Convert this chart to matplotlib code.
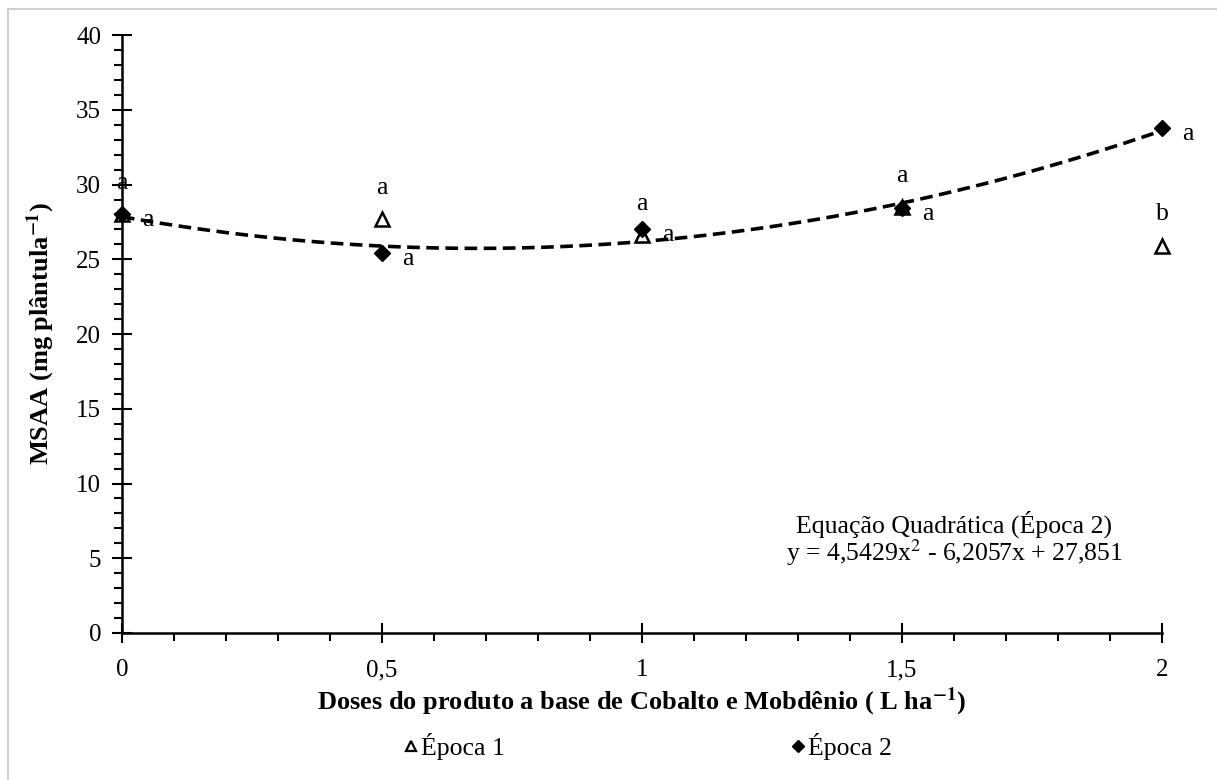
import numpy as np
import matplotlib.pyplot as plt
from matplotlib.lines import Line2D
from matplotlib.ticker import MultipleLocator

plt.rcParams['font.family'] = ['Liberation Serif', 'DejaVu Serif']
plt.rcParams['mathtext.fontset'] = 'stix'

# dados
doses = [0, 0.5, 1, 1.5, 2]
epoca1 = [28.0, 27.7, 26.6, 28.5, 25.9]
epoca2 = [28.0, 25.4, 27.0, 28.4, 33.8]
letras1 = ['a', 'a', 'a', 'a', 'b']
letras2 = ['a', 'a', 'a', 'a', 'a']
coef = [4.5429, -6.2057, 27.851]  # equação quadrática (época 2)

fs = 18.5

fig = plt.figure(figsize=(12.17, 7.80), dpi=100)
ax = fig.add_axes([0.1002, 0.1885, 0.8546, 0.7665])

# curva ajustada
xs = np.linspace(0, 2, 200)
ax.plot(xs, np.polyval(coef, xs), color='black', linestyle=(0, (3.5, 1.8)), lw=2.6, zorder=2)

ax.plot(doses, epoca1, linestyle='none', marker='^', markersize=10, markerfacecolor='white',
        markeredgecolor='black', markeredgewidth=1.8, zorder=3, clip_on=False)
ax.plot(doses, epoca2, linestyle='none', marker='D', markersize=8, color='black', zorder=4,
        clip_on=False)

# letras
for x, y, t in zip(doses, epoca1, letras1):
    ax.text(x, y + 2.1, t, ha='center', va='center', fontsize=fs)
for x, y, t in zip(doses, epoca2, letras2):
    ax.text(x + 0.05, y - 0.4, t, ha='center', va='center', fontsize=fs)

ax.text(1.6, 7.3, 'Equação Quadrática (Época 2)', ha='center', va='center', fontsize=fs)
ax.text(1.6, 5.4, 'y = 4,5429x$^{2}$ - 6,2057x + 27,851', ha='center', va='center', fontsize=fs)

ax.set_xlim(0, 2)
ax.set_ylim(0, 40)
ax.set_xticks(doses)
ax.set_xticklabels(['0', '0,5', '1', '1,5', '2'])
ax.set_yticks(range(0, 41, 5))
ax.xaxis.set_minor_locator(MultipleLocator(0.1))
ax.yaxis.set_minor_locator(MultipleLocator(1))
ax.tick_params(axis='both', which='major', direction='inout', length=14, width=1.5, labelsize=18, pad=8)
ax.tick_params(axis='x', which='major', pad=12)
ax.tick_params(axis='both', which='minor', direction='out', length=6, width=1.5)
for s in ['top', 'right']:
    ax.spines[s].set_visible(False)
for s in ['left', 'bottom']:
    ax.spines[s].set_linewidth(1.8)

ax.set_xlabel('Doses do produto a base de Cobalto e Mobdênio ( L ha$^{\\mathbf{-1}}$)',
              fontsize=19, fontweight='bold', labelpad=3)
ax.set_ylabel('MSAA (mg plântula$^{\\mathbf{-1}}$)', fontsize=19, fontweight='bold', labelpad=14)

h1 = Line2D([], [], linestyle='none', marker='^', markersize=7, markerfacecolor='white',
            markeredgecolor='black', markeredgewidth=1.6)
h2 = Line2D([], [], linestyle='none', marker='D', markersize=6, color='black')
fig.legend([h1, h2], ['Época 1', 'Época 2'], loc='center', bbox_to_anchor=(0.529, 0.043), ncol=2,
           frameon=False, fontsize=fs, handletextpad=-0.2, columnspacing=10.8, handlelength=1.2)

# moldura cinza
fig.add_artist(Line2D([0.0066, 1], [0.988, 0.988], color='#d0d0d0', lw=1.5, transform=fig.transFigure))
fig.add_artist(Line2D([0.0066, 0.0066], [0, 0.988], color='#d0d0d0', lw=1.5, transform=fig.transFigure))

fig.savefig('out.png', dpi=100)
